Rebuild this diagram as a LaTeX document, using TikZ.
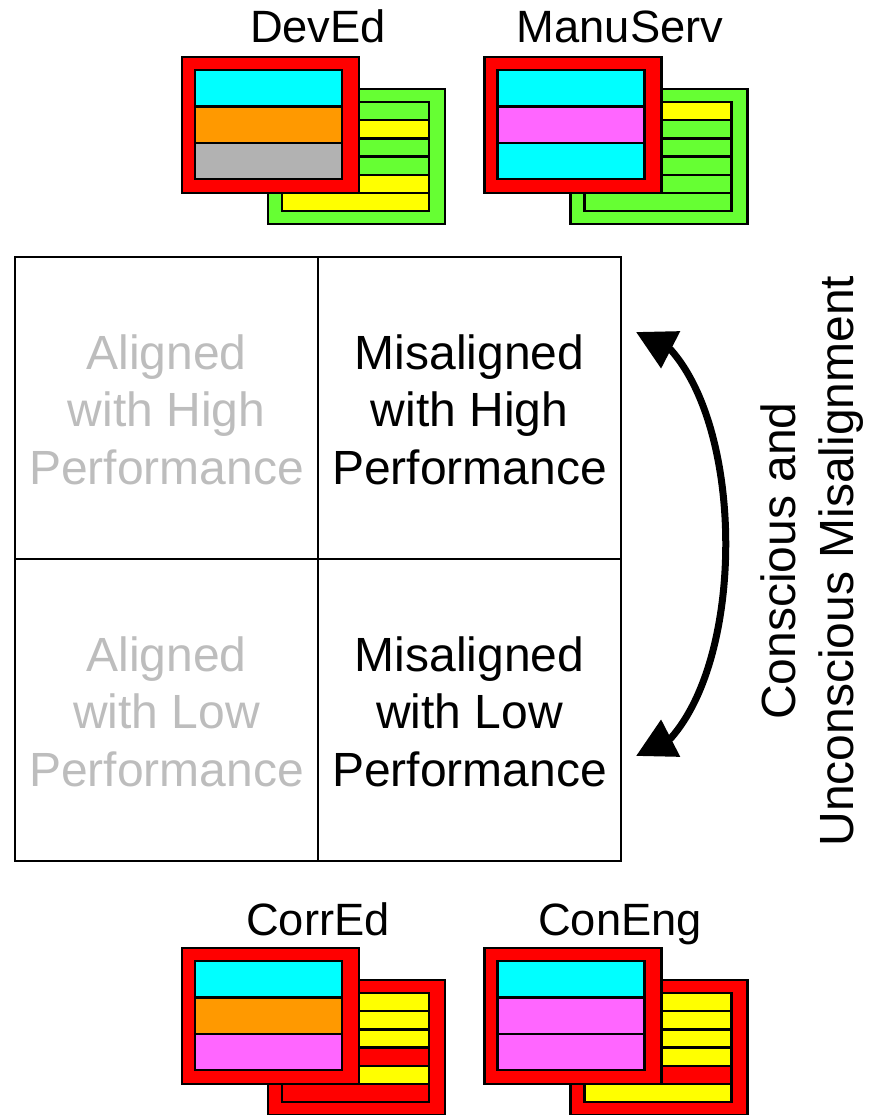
\documentclass[tikz,border=0pt]{standalone}
\usepackage{fontspec}
\setmainfont{Liberation Sans}
\usepackage{tikz}
\usetikzlibrary{arrows.meta}
\definecolor{lime}{HTML}{66FF33}
\definecolor{pink}{HTML}{FF66FF}
\definecolor{amber}{HTML}{FF9900}
\definecolor{ash}{HTML}{B2B2B2}
\definecolor{fade}{HTML}{BDBDBD}
\definecolor{aqua}{HTML}{00FFFF}
\definecolor{lemon}{HTML}{FFFF00}
\definecolor{scarlet}{HTML}{FF0000}
\tikzset{
	box/.style n args={3}{draw,line width=2.3pt,fill=#1,minimum width=#2pt,minimum height=#3pt,inner sep=0pt,outer sep=0pt,anchor=north west},
	cell/.style 2 args={draw,line width=2.3pt,minimum width=303pt,minimum height=302pt,inner sep=0pt,outer sep=0pt,anchor=north west,label={[text=#1,align=center,yshift=-1.5pt,font=\fontsize{48}{57.5}\selectfont]center:{#2}}},
	title/.style={inner sep=0pt,anchor=base,font=\fontsize{45.3}{54}\selectfont}
}
% back card: anchor, frame colour, six stripes
\newcommand{\backcard}[8]{
	\node [box={#2}{177}{135}] (#1-back) at ([shift={(86,32)}]#1) {};
	\node [box={#3}{147}{18.2}] (#1-b1) at ([shift={(100,45)}]#1) {};
	\node [box={#4}{147}{18.2}] (#1-b2) at (#1-b1.south west) {};
	\node [box={#5}{147}{18.2}] (#1-b3) at (#1-b2.south west) {};
	\node [box={#6}{147}{18.2}] (#1-b4) at (#1-b3.south west) {};
	\node [box={#7}{147}{18.2}] (#1-b5) at (#1-b4.south west) {};
	\node [box={#8}{147}{18.2}] (#1-b6) at (#1-b5.south west) {};
}
% front card: anchor, three stripes
\newcommand{\frontcard}[4]{
	\node [box={scarlet}{177}{136}] (#1-front) at (#1) {};
	\node [box={#2}{147}{36.4}] (#1-f1) at ([shift={(13,13)}]#1) {};
	\node [box={#3}{147}{36.4}] (#1-f2) at (#1-f1.south west) {};
	\node [box={#4}{147}{36.4}] (#1-f3) at (#1-f2.south west) {};
}
\begin{document}
\begin{tikzpicture}[x=1pt,y=-1pt]
	\useasboundingbox (0,0) rectangle (869,1115);
	\coordinate (deved) at (182,57);
	\coordinate (manuserv) at (484.5,57);
	\coordinate (corred) at (182,948);
	\coordinate (coneng) at (484.5,948);

	\backcard{deved}{lime}{lime}{lemon}{lime}{lime}{lemon}{lemon}
	\frontcard{deved}{aqua}{amber}{ash}
	\backcard{manuserv}{lime}{lemon}{lime}{lime}{lime}{lime}{lime}
	\frontcard{manuserv}{aqua}{pink}{aqua}
	\backcard{corred}{scarlet}{lemon}{lemon}{lemon}{scarlet}{lemon}{scarlet}
	\frontcard{corred}{aqua}{amber}{pink}
	\backcard{coneng}{scarlet}{lemon}{lemon}{lemon}{lemon}{scarlet}{lemon}
	\frontcard{coneng}{aqua}{pink}{pink}

	\node [title] (deved-title) at (318,43) {DevEd};
	\node [title] (manuserv-title) at (620,43) {ManuServ};
	\node [title] (corred-title) at (318,935) {CorrEd};
	\node [title] (coneng-title) at (620,935) {ConEng};

	\node [cell={fade}{Aligned\\with High\\Performance}] (alignedhigh) at (15,257) {};
	\node [cell={black}{Misaligned\\with High\\Performance}] (misalignedhigh) at (318,257) {};
	\node [cell={fade}{Aligned\\with Low\\Performance}] (alignedlow) at (15,559) {};
	\node [cell={black}{Misaligned\\with Low\\Performance}] (misalignedlow) at (318,559) {};

	\coordinate (tophead) at (636,332);
	\coordinate (topshaft) at (671,350);
	\coordinate (topbend) at (744,433);
	\coordinate (lowbend) at (744,655);
	\coordinate (lowshaft) at (671,738);
	\coordinate (lowhead) at (636,756);
	\draw [{Triangle[length=39pt,width=40pt]}-{Triangle[length=39pt,width=40pt]},line width=7pt] (tophead) -- (topshaft) .. controls (topbend) and (lowbend) .. (lowshaft) -- (lowhead);

	\node [rotate=90,align=center,inner sep=0pt,font=\fontsize{48}{58}\selectfont] (misalignment) at (812,561) {Conscious and\\Unconscious Misalignment};
\end{tikzpicture}
\end{document}
